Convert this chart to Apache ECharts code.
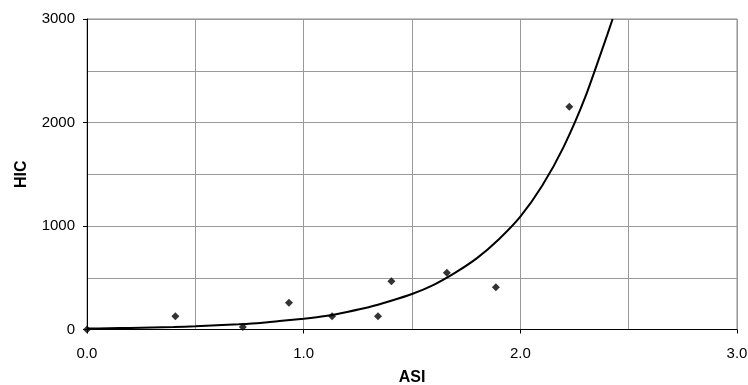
<!DOCTYPE html>
<html>
<head>
<meta charset="utf-8">
<script src="https://cdn.jsdelivr.net/npm/echarts@6/dist/echarts.min.js"></script>
<style>
html,body{margin:0;padding:0;background:#fff;}
#chart{width:748px;height:385px;}
</style>
</head>
<body>
<div id="chart"></div>
<script>
// Measured points (ASI, HIC)
const asi = [0.0, 0.408, 0.719, 0.932, 1.131, 1.343, 1.405, 1.661, 1.887, 2.226];
const hic = [0, 128, 24, 259, 128, 128, 466, 549, 408, 2153];
// Trend curve
const trendAsi = [0.0, 0.1, 0.2, 0.3, 0.4, 0.5, 0.6, 0.7, 0.8, 0.9, 1.0, 1.1, 1.2, 1.3, 1.4, 1.5, 1.6, 1.7, 1.8, 1.9, 2.0, 2.1, 2.2, 2.3, 2.4, 2.426];
const trendHic = [9, 12, 15, 19, 24, 31, 40, 50, 63, 84, 104, 130, 170, 215, 275, 343, 432, 550, 690, 870, 1090, 1386, 1765, 2247, 2840, 3000];
const xTicks = [0, 1, 2, 3];
const yTicks = [0, 1000, 2000, 3000];

const chart = echarts.init(document.getElementById('chart'));
const font = 'Liberation Sans, Arial, sans-serif';
const gridColor = '#9a9a9a';
chart.setOption({
  animation: false,
  grid: {left: 87, right: 11, top: 19, bottom: 55.5, show: true, borderColor: '#8a8a8a', borderWidth: 1,
         containLabel: false, outerBoundsMode: 'none'},
  xAxis: {
    type: 'value', min: xTicks[0], max: xTicks[xTicks.length-1], interval: 1,
    name: 'ASI', nameLocation: 'middle', nameGap: 40,
    nameTextStyle: {fontFamily: font, fontSize: 16, fontWeight: 'bold', color: '#000'},
    axisLine: {show: true, onZero: false, lineStyle: {color: '#000', width: 1}},
    axisTick: {show: true, length: 4, lineStyle: {color: '#000'}},
    axisLabel: {fontFamily: font, fontSize: 15, color: '#000', margin: 17, formatter: v => v.toFixed(1)},
    splitLine: {show: true, lineStyle: {color: gridColor, width: 1}},
    minorTick: {show: false, splitNumber: 2},
    minorSplitLine: {show: true, lineStyle: {color: gridColor, width: 1}}
  },
  yAxis: {
    type: 'value', min: yTicks[0], max: yTicks[yTicks.length-1], interval: 1000,
    name: 'HIC', nameLocation: 'middle', nameGap: 57, nameRotate: 90,
    nameTextStyle: {fontFamily: font, fontSize: 16, fontWeight: 'bold', color: '#000'},
    axisLine: {show: true, onZero: false, lineStyle: {color: '#000', width: 1}},
    axisTick: {show: true, length: 4, lineStyle: {color: '#000'}},
    axisLabel: {fontFamily: font, fontSize: 15, color: '#000', margin: 12, formatter: v => String(v)},
    splitLine: {show: true, lineStyle: {color: gridColor, width: 1}},
    minorTick: {show: false, splitNumber: 2},
    minorSplitLine: {show: true, lineStyle: {color: gridColor, width: 1}}
  },
  series: [
    {
      type: 'line', data: trendAsi.map((x, i) => [x, trendHic[i]]),
      smooth: 0.2, showSymbol: false, symbol: 'none',
      lineStyle: {color: '#000', width: 2}, z: 3
    },
    {
      type: 'scatter', data: asi.map((x, i) => [x, hic[i]]),
      symbol: 'diamond', symbolSize: 8,
      itemStyle: {color: '#000'}, z: 4
    }
  ]
});
</script>
</body>
</html>
